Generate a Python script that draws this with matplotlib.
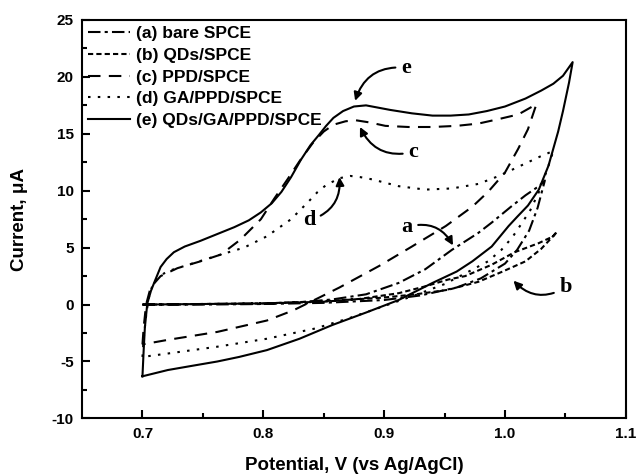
import matplotlib
matplotlib.use("Agg")
import matplotlib.pyplot as plt

plt.rcParams["axes.unicode_minus"] = False

# ---- data ----
a_x = [0.700, 0.750, 0.800, 0.830, 0.857, 0.885, 0.912, 0.934, 0.956, 0.978, 0.989, 1.005, 1.017, 1.028, 1.033,
       1.027, 1.020, 1.010, 1.000, 0.980, 0.960, 0.930, 0.900, 0.850, 0.800, 0.750, 0.700]
a_y = [0.0, 0.05, 0.1, 0.2, 0.45, 0.9, 1.9, 3.1, 4.8, 6.3, 7.2, 8.6, 9.6, 10.4, 10.9,
       8.5, 6.5, 4.8, 3.6, 2.3, 1.5, 0.8, 0.4, 0.15, 0.05, 0.0, 0.0]

b_x = [0.700, 0.750, 0.800, 0.850, 0.898, 0.926, 0.953, 0.978, 0.998, 1.017, 1.030, 1.038, 1.043,
       1.040, 1.028, 1.008, 0.989, 0.967, 0.953, 0.934, 0.912, 0.880, 0.850, 0.800, 0.750, 0.700]
b_y = [0.0, 0.05, 0.1, 0.3, 0.6, 0.9, 1.3, 2.0, 2.9, 3.8, 4.9, 5.8, 6.4,
       6.0, 5.4, 4.6, 3.5, 2.5, 2.2, 1.6, 1.0, 0.5, 0.25, 0.1, 0.05, 0.0]

c_x = [0.700, 0.701, 0.703, 0.706, 0.710, 0.715, 0.729, 0.748, 0.765, 0.781, 0.798, 0.809, 0.820, 0.830, 0.841,
       0.850, 0.858, 0.868, 0.876, 0.888, 0.901, 0.920, 0.940, 0.960, 0.978, 0.995, 1.011, 1.026,
       1.019, 1.011, 1.000, 0.986, 0.973, 0.951, 0.923, 0.896, 0.863, 0.846, 0.825, 0.803, 0.762, 0.721, 0.700]
c_y = [-3.5, -2.0, 0.0, 1.2, 1.9, 2.5, 3.2, 3.8, 4.4, 5.7, 7.5, 9.3, 11.0, 12.6, 14.2,
       15.2, 15.8, 16.1, 16.2, 16.0, 15.7, 15.6, 15.6, 15.7, 15.9, 16.3, 16.7, 17.6,
       15.4, 13.7, 11.6, 9.9, 8.6, 6.9, 5.1, 3.4, 1.5, 0.6, -0.5, -1.4, -2.4, -3.1, -3.5]

d_x = [0.700, 0.701, 0.703, 0.705, 0.708, 0.712, 0.720, 0.735, 0.750, 0.765, 0.784, 0.803, 0.823, 0.837, 0.845,
       0.852, 0.863, 0.872, 0.880, 0.890, 0.912, 0.934, 0.956, 0.978, 0.995, 1.011, 1.029, 1.040,
       1.036, 1.029, 1.021, 1.013, 1.006, 0.997, 0.986, 0.970, 0.950, 0.925, 0.898, 0.871, 0.843, 0.803, 0.762, 0.721, 0.700]
d_y = [-4.6, -3.0, -1.0, 0.5, 1.6, 2.3, 2.9, 3.4, 3.9, 4.4, 5.0, 6.0, 7.5, 9.0, 9.9,
       10.5, 11.1, 11.3, 11.2, 11.0, 10.4, 10.1, 10.2, 10.6, 11.3, 12.1, 13.0, 13.5,
       12.2, 10.1, 8.3, 7.0, 5.9, 4.8, 3.8, 2.9, 1.8, 0.8, -0.2, -1.2, -2.1, -3.0, -3.7, -4.3, -4.6]

e_x = [0.700, 0.701, 0.702, 0.704, 0.707, 0.710, 0.715, 0.720, 0.726, 0.735, 0.748, 0.762, 0.776, 0.788, 0.798,
       0.807, 0.815, 0.823, 0.831, 0.839, 0.846, 0.852, 0.858, 0.866, 0.875, 0.885, 0.895, 0.905, 0.923, 0.940,
       0.955, 0.970, 0.985, 1.000, 1.017, 1.030, 1.040, 1.048, 1.056,
       1.053, 1.048, 1.044, 1.036, 1.028, 1.019, 1.010, 1.003, 0.989, 0.973, 0.960, 0.940, 0.912, 0.885, 0.857,
       0.830, 0.803, 0.780, 0.762, 0.740, 0.721, 0.700]
e_y = [-6.3, -4.0, -2.0, 0.1, 1.2, 2.0, 3.3, 4.0, 4.6, 5.1, 5.6, 6.2, 6.8, 7.4, 8.1,
       8.9, 9.9, 11.2, 12.7, 14.0, 14.9, 15.7, 16.4, 17.0, 17.4, 17.5, 17.3, 17.1, 16.8, 16.6,
       16.6, 16.7, 17.0, 17.4, 18.1, 18.8, 19.4, 20.1, 21.3,
       19.5, 17.0, 15.2, 12.2, 10.1, 8.7, 7.7, 6.9, 5.1, 3.8, 2.9, 1.9, 0.4, -0.7, -1.8,
       -3.0, -4.0, -4.6, -5.0, -5.4, -5.75, -6.3]

labels = ["(a) bare SPCE", "(b) QDs/SPCE", "(c) PPD/SPCE", "(d) GA/PPD/SPCE", "(e) QDs/GA/PPD/SPCE"]
x_ticks = [0.7, 0.8, 0.9, 1.0, 1.1]
x_tick_labels = ["0.7", "0.8", "0.9", "1.0", "1.1"]
y_ticks = [-10, -5, 0, 5, 10, 15, 20, 25]

sans = ["Liberation Sans", "DejaVu Sans"]
serif = ["Liberation Serif", "DejaVu Serif"]

fig = plt.figure(figsize=(6.36, 4.76), dpi=100)
ax = fig.add_axes([0.129, 0.121, 0.855, 0.837])

lw = 1.5
ax.plot(a_x, a_y, color="black", lw=lw, dashes=(6, 2, 1.5, 2), label=labels[0])
ax.plot(b_x, b_y, color="black", lw=lw, dashes=(2.5, 1.5), label=labels[1])
ax.plot(c_x, c_y, color="black", lw=lw, dashes=(6, 4), label=labels[2])
ax.plot(d_x, d_y, color="black", lw=lw, dashes=(1.2, 3.5), label=labels[3])
ax.plot(e_x, e_y, color="black", lw=lw, label=labels[4])

ax.set_xlim(0.65, 1.1)
ax.set_ylim(-10, 25)
ax.set_xticks(x_ticks)
ax.set_xticklabels(x_tick_labels)
ax.set_yticks(y_ticks)
ax.set_xticks([0.75, 0.85, 0.95, 1.05], minor=True)
ax.set_yticks([-7.5, -2.5, 2.5, 7.5, 12.5, 17.5, 22.5], minor=True)
ax.tick_params(which="both", direction="in", top=False, right=False, width=1.5)
ax.tick_params(which="major", length=6, pad=6)
ax.tick_params(which="minor", length=3.5)
for lab in ax.get_xticklabels() + ax.get_yticklabels():
    lab.set_family(sans)
    lab.set_fontweight("bold")
    lab.set_fontsize(11)
for sp in ax.spines.values():
    sp.set_linewidth(1.5)

ax.set_xlabel("Potential, V (vs Ag/AgCl)", family=sans, fontweight="bold", fontsize=13.5, labelpad=12)
ax.set_ylabel("Current, \u03bcA", family=sans, fontweight="bold", fontsize=13.5, labelpad=17)

leg = ax.legend(loc="upper left", bbox_to_anchor=(0.0, 1.0), frameon=False,
                prop={"family": sans, "weight": "bold", "size": 12.5},
                handlelength=2.4, handletextpad=0.35, labelspacing=0.38,
                borderaxespad=0.15, borderpad=0.2)

arrow = dict(arrowstyle="-|>", color="black", lw=1.5, mutation_scale=12, shrinkA=2, shrinkB=0)
tf = dict(family=serif, fontweight="bold", fontsize=16, ha="center", va="center")
ax.annotate("e", xy=(0.876, 17.9), xytext=(0.918, 20.8),
            arrowprops=dict(arrow, connectionstyle="arc3,rad=0.4"), **tf)
ax.annotate("c", xy=(0.880, 15.6), xytext=(0.924, 13.4),
            arrowprops=dict(arrow, connectionstyle="arc3,rad=-0.4"), **tf)
ax.annotate("d", xy=(0.863, 11.2), xytext=(0.838, 7.4),
            arrowprops=dict(arrow, connectionstyle="arc3,rad=0.4"), **tf)
ax.annotate("a", xy=(0.957, 5.2), xytext=(0.919, 6.8),
            arrowprops=dict(arrow, connectionstyle="arc3,rad=-0.4"), **tf)
ax.annotate("b", xy=(1.007, 2.1), xytext=(1.050, 1.5),
            arrowprops=dict(arrow, connectionstyle="arc3,rad=-0.4"), **tf)

fig.savefig("out.png", dpi=100)
